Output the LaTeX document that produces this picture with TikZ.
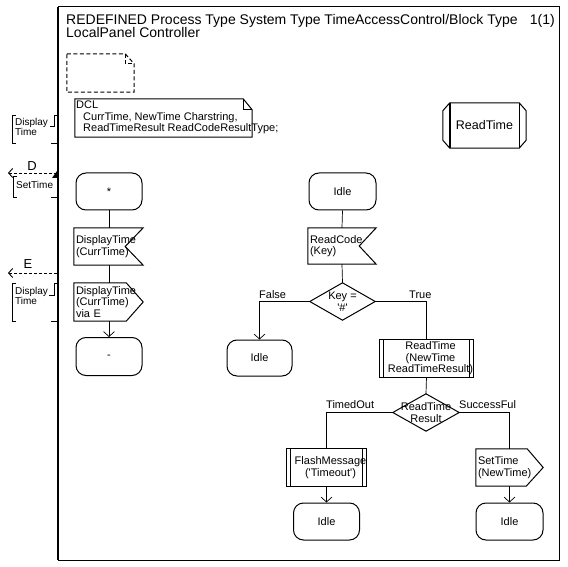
\documentclass[tikz,border=0pt]{standalone}
\usepackage{fontspec}
\setmainfont{Liberation Sans}
\usetikzlibrary{calc,arrows.meta}
\begin{document}
\begin{tikzpicture}[x=1pt,y=-1pt,
  every node/.style={font=\fontsize{11}{11.5}\selectfont, inner sep=0pt},
  titlefont/.style={font=\fontsize{14}{14}\selectfont},
  chanfont/.style={font=\fontsize{13}{13}\selectfont},
  smallfont/.style={font=\fontsize{10}{10}\selectfont},
  sdlstate/.style={draw, line width=1pt, rounded corners=10pt, minimum width=66pt, minimum height=37pt},
  holder/.style={minimum width=#1, minimum height=37pt},
  conn/.style={line width=0.7pt},
  heavy/.style={line width=1.6pt},
  arr/.style={conn, -{Straight Barb[length=5pt,width=11pt,line width=0.7pt]}},
  chan/.style={line width=0.7pt, dash pattern=on 3pt off 2pt, -{Straight Barb[length=4pt,width=9pt,line width=0.9pt,sep=0pt]}},
  shp/.style={line width=1pt},
  lbl/.style={anchor=base west},
]
\useasboundingbox (0,0) rectangle (568,567);

% frame
\draw[line width=1pt] (58,7) rectangle (559,560);
\draw[line width=2pt] (58,7) -- (58,560);

% title
\node[titlefont, anchor=base west] (title1) at (66,25) {REDEFINED Process Type System Type TimeAccessControl/Block Type};
\node[titlefont, anchor=base east] (pagenum) at (555,25) {1(1)};
\node[titlefont, anchor=base west] (title2) at (66,38) {LocalPanel Controller};

% dashed text symbol
\node[minimum width=67pt, minimum height=38pt] (tsym) at (100.5,73) {};
\draw[shp, dash pattern=on 4pt off 2.5pt] (tsym.north west) -- ($(tsym.north east)+(-9,0)$) -- ($(tsym.north east)+(0,10)$) -- (tsym.south east) -- (tsym.south west) -- cycle;
\draw[shp, dash pattern=on 4pt off 2.5pt] ($(tsym.north east)+(-9,0)$) -- ($(tsym.north east)+(-9,10)$) -- ($(tsym.north east)+(0,10)$);

% DCL text symbol
\node[minimum width=177pt, minimum height=38pt] (dcl) at (163.5,118) {};
\draw[shp] (dcl.north west) -- ($(dcl.north east)+(-9,0)$) -- ($(dcl.north east)+(0,11)$) -- (dcl.south east) -- (dcl.south west) -- cycle;
\draw[conn] ($(dcl.north east)+(-9,0)$) -- ($(dcl.north east)+(-9,11)$) -- ($(dcl.north east)+(0,11)$);
\node[lbl] (dcl1) at (76,108.5) {DCL};
\node[lbl] (dcl2) at (83,120.5) {CurrTime, NewTime Charstring,};
\node[lbl] (dcl3) at (83,132) {ReadTimeResult ReadCodeResultType;};

% procedure reference ReadTime
\node[minimum width=69pt, minimum height=45pt, font=\fontsize{12.5}{13}\selectfont] (rt) at (484.5,125.5) {ReadTime};
\draw[shp] (rt.north west) -- (rt.north east) -- ($(rt.north east)+(7,8)$) -- ($(rt.south east)+(7,-8)$) -- (rt.south east) -- (rt.south west) -- ($(rt.south west)+(-7,-8)$) -- ($(rt.north west)+(-7,8)$) -- cycle;
\draw[line width=1.6pt] (rt.north west) -- (rt.south west);
\draw[shp] (rt.north east) -- (rt.south east);

% ---------- left column ----------
\node[sdlstate] (start) at (109,191.5) {*};
\node[holder=69pt, text width=65pt, align=left] (in1) at (108.5,246.5) {DisplayTime\\(CurrTime)};
\draw[shp] (in1.north west) -- (in1.north east) -- ($(in1.east)+(-18,0)$) -- (in1.south east) -- (in1.south west) -- cycle;
\node[holder=69pt, minimum height=38pt, text width=65pt, align=left] (out1) at (108.5,302) {DisplayTime\\(CurrTime)\\via E};
\draw[shp] (out1.north west) -- ($(out1.north east)+(-17,0)$) -- (out1.east) -- ($(out1.south east)+(-17,0)$) -- (out1.south west) -- cycle;
\node[sdlstate, minimum height=38pt] (stop) at (109,356.5) {-};

\draw[conn] (start.south) -- (start.south |- in1.north);
\draw[conn] (start.south |- in1.south) -- (start.south |- out1.north);
\draw[arr] (start.south |- out1.south) -- (stop.north);

% ---------- right column ----------
\node[sdlstate, minimum width=67pt] (idle1) at (342.5,191.5) {Idle};
\node[holder=68pt, minimum height=36pt, text width=64pt, align=left] (in2) at (342,246) {ReadCode\\(Key)};
\draw[shp] (in2.north west) -- (in2.north east) -- ($(in2.east)+(-17,0)$) -- (in2.south east) -- (in2.south west) -- cycle;
\node[holder=65pt, align=center] (dec1) at (342.5,301.5) {Key =\\\textquotesingle\#\textquotesingle};
\draw[shp] (dec1.north) -- (dec1.east) -- (dec1.south) -- (dec1.west) -- cycle;

\node[sdlstate, minimum width=65pt, minimum height=36pt] (idle2) at (259.5,358) {Idle};
\node[holder=67pt, align=center] (call1) at (426.5,358.5) {\hspace*{8pt}ReadTime\\\hspace*{8pt}(NewTime\\\hspace*{8pt}ReadTimeResult)};
\draw[shp] (call1.north west) rectangle (call1.south east);
\draw[shp] ($(call1.north west)+(4,0)$) -- ($(call1.south west)+(4,0)$);
\draw[shp] ($(call1.north east)+(-4,0)$) -- ($(call1.south east)+(-4,0)$);

\node[holder=66pt, align=center] (dec2) at (426,412.5) {ReadTime\\Result};
\draw[shp] (dec2.north) -- (dec2.east) -- (dec2.south) -- (dec2.west) -- cycle;

\node[holder=67pt, align=center] (call2) at (326.5,467.5) {\hspace*{8pt}FlashMessage\\\hspace*{8pt}(\textquotesingle Timeout\textquotesingle)};
\draw[shp] (call2.north west) rectangle (call2.south east);
\draw[shp] ($(call2.north west)+(4,0)$) -- ($(call2.south west)+(4,0)$);
\draw[shp] ($(call2.north east)+(-4,0)$) -- ($(call2.south east)+(-4,0)$);

\node[holder=67pt, text width=63pt, align=left] (out2) at (509.5,467.5) {SetTime\\(NewTime)};
\draw[shp] (out2.north west) -- ($(out2.north east)+(-16,0)$) -- (out2.east) -- ($(out2.south east)+(-17,0)$) -- (out2.south west) -- cycle;

\node[sdlstate, minimum width=66pt] (idle3) at (326.5,521.5) {Idle};
\node[sdlstate, minimum width=67pt] (idle4) at (509.5,521.5) {Idle};

% connectors right
\draw[conn] (idle1.south) -- (in2.north);
\draw[conn] (in2.south) -- (dec1.north);
\draw[arr] (dec1.west) -| (idle2.north);
\node[lbl] (lfalse) at (259,298) {False};
\draw[heavy] (dec1.east) -- (dec1.east -| call1.north);
\draw[conn] (dec1.east -| call1.north) -- (call1.north);
\node[lbl] (ltrue) at (409,298) {True};
\draw[conn] (call1.south) -- (dec2.north);
\draw[conn] (dec2.west) -| (call2.north);
\node[lbl] (ltimed) at (326,408) {TimedOut};
\draw[heavy] (dec2.east) -- (dec2.east -| out2.north);
\draw[conn] (dec2.east -| out2.north) -- (out2.north);
\node[lbl] (lsucc) at (459,408) {SuccessFul};
\draw[arr] (call2.south) -- (idle3.north);
\draw[arr] (out2.south) -- (idle4.north);

% ---------- channels & signal lists (left of frame) ----------
\coordinate (fD) at (57,173);
\coordinate (tD) at (8,173);
\draw[chan] (fD) -- (tD);
\node[chanfont, anchor=base] (chD) at (32,171) {D};
\coordinate (fE) at (57,273);
\coordinate (tE) at (8,273);
\draw[chan] (fE) -- (tE);
\node[chanfont, anchor=base] (chE) at (28,268) {E};

% signal list 1
\draw[conn] (16,115) -- (12,115) -- (12,143) -- (16,143);
\node[smallfont, lbl] (sl1a) at (15,125.5) {Display};
\node[smallfont, lbl] (sl1b) at (15,135.5) {Time};
\draw[conn] (50,126) -- (54,126) -- (54,115) -- (57,115);
\draw[conn] (51,143) -- (57,143);

% signal list 2
\draw[conn] (17,176) -- (13,176) -- (13,197) -- (17,197);
\node[smallfont, lbl] (sl2) at (16,188.5) {SetTime};
\fill (57,171) -- (57,178) -- (52,178) -- cycle;
\draw[conn] (51,197) -- (57,197);

% signal list 3
\draw[conn] (16,283) -- (12,283) -- (12,321) -- (16,321);
\node[smallfont, lbl] (sl3a) at (15,294.5) {Display};
\node[smallfont, lbl] (sl3b) at (15,304.5) {Time};
\draw[conn] (49,295) -- (54,295) -- (54,283) -- (57,283);
\draw[conn] (51,321) -- (57,321);
\end{tikzpicture}
\end{document}
